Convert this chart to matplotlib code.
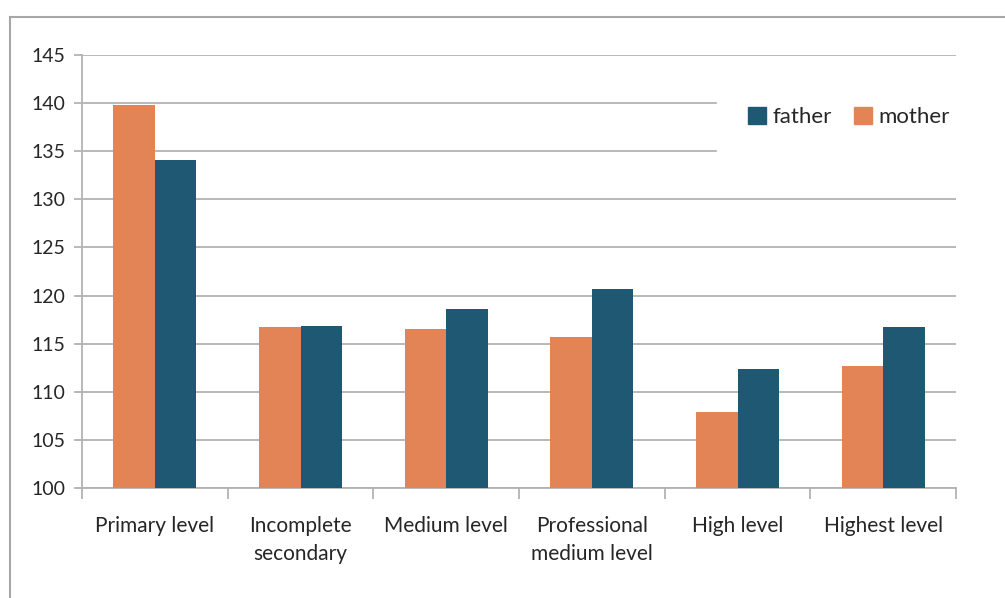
import numpy as np
import matplotlib.pyplot as plt
from matplotlib.patches import Rectangle
from matplotlib.lines import Line2D

categories = ['Primary level', 'Incomplete\nsecondary', 'Medium level',
              'Professional\nmedium level', 'High level', 'Highest level']
mother = [139.8, 116.7, 116.5, 115.7, 107.9, 112.7]
father = [134.1, 116.8, 118.6, 120.7, 112.4, 116.7]

c_mother = '#E38457'
c_father = '#1F5872'
grid_c = '#B3B3B3'

plt.rcParams['font.family'] = ['Lato', 'DejaVu Sans']

fig = plt.figure(figsize=(10.05, 5.98), dpi=100)
W, H = 1005, 598

# outer chart border (top and left edges visible)
fig.add_artist(Line2D([10 / W, 1], [1 - 17 / H, 1 - 17 / H], color='#A6A6A6', lw=1.5))
fig.add_artist(Line2D([10 / W, 10 / W], [0, 1 - 17 / H], color='#A6A6A6', lw=1.5))

ax = fig.add_axes([82 / W, 1 - 488 / H, (956 - 82) / W, (488 - 55) / H])

x = np.arange(len(categories))
bw = 0.285
ax.bar(x - bw / 2, mother, bw, color=c_mother, label='mother', zorder=3)
ax.bar(x + bw / 2, father, bw, color=c_father, label='father', zorder=3)

ax.set_xlim(-0.5, len(categories) - 0.5)
ax.set_ylim(100, 145)
ax.set_yticks(np.arange(100, 146, 5))
ax.yaxis.grid(True, color=grid_c, lw=1.3, zorder=0)
ax.set_axisbelow(True)

for s in ['top', 'right']:
    ax.spines[s].set_visible(False)
ax.spines['left'].set_color(grid_c)
ax.spines['bottom'].set_color(grid_c)
ax.spines['left'].set_linewidth(1.3)
ax.spines['bottom'].set_linewidth(1.3)

# category tick marks sit on the group boundaries
ax.set_xticks(np.arange(-0.5, len(categories)), minor=False)
ax.set_xticklabels([])
ax.set_xticks(x, minor=True)
ax.set_xticklabels(categories, minor=True, fontsize=15, color='#262626',
                   linespacing=1.5)
ax.tick_params(axis='x', which='major', length=8, color=grid_c, width=1.3)
ax.tick_params(axis='x', which='minor', length=0, pad=20)
ax.tick_params(axis='y', length=6, color=grid_c, width=1.3, labelsize=14,
               labelcolor='#262626', pad=6)

# legend with white background over the upper grid lines
handles = [Rectangle((0, 0), 1, 1, color=c_father), Rectangle((0, 0), 1, 1, color=c_mother)]
leg = ax.legend(handles, ['father', 'mother'], ncol=2, loc='upper left',
                bbox_to_anchor=((717 - 82) / (956 - 82), (488 - 76) / (488 - 55)),
                frameon=True, fontsize=16, handlelength=0.8, handleheight=0.8,
                handletextpad=0.3, columnspacing=1.0, borderpad=1.4,
                borderaxespad=0, labelcolor='#262626')
leg.get_frame().set_facecolor('white')
leg.get_frame().set_edgecolor('white')
leg.get_frame().set_alpha(1)
leg.set_zorder(5)

fig.savefig('out.png', dpi=100)
